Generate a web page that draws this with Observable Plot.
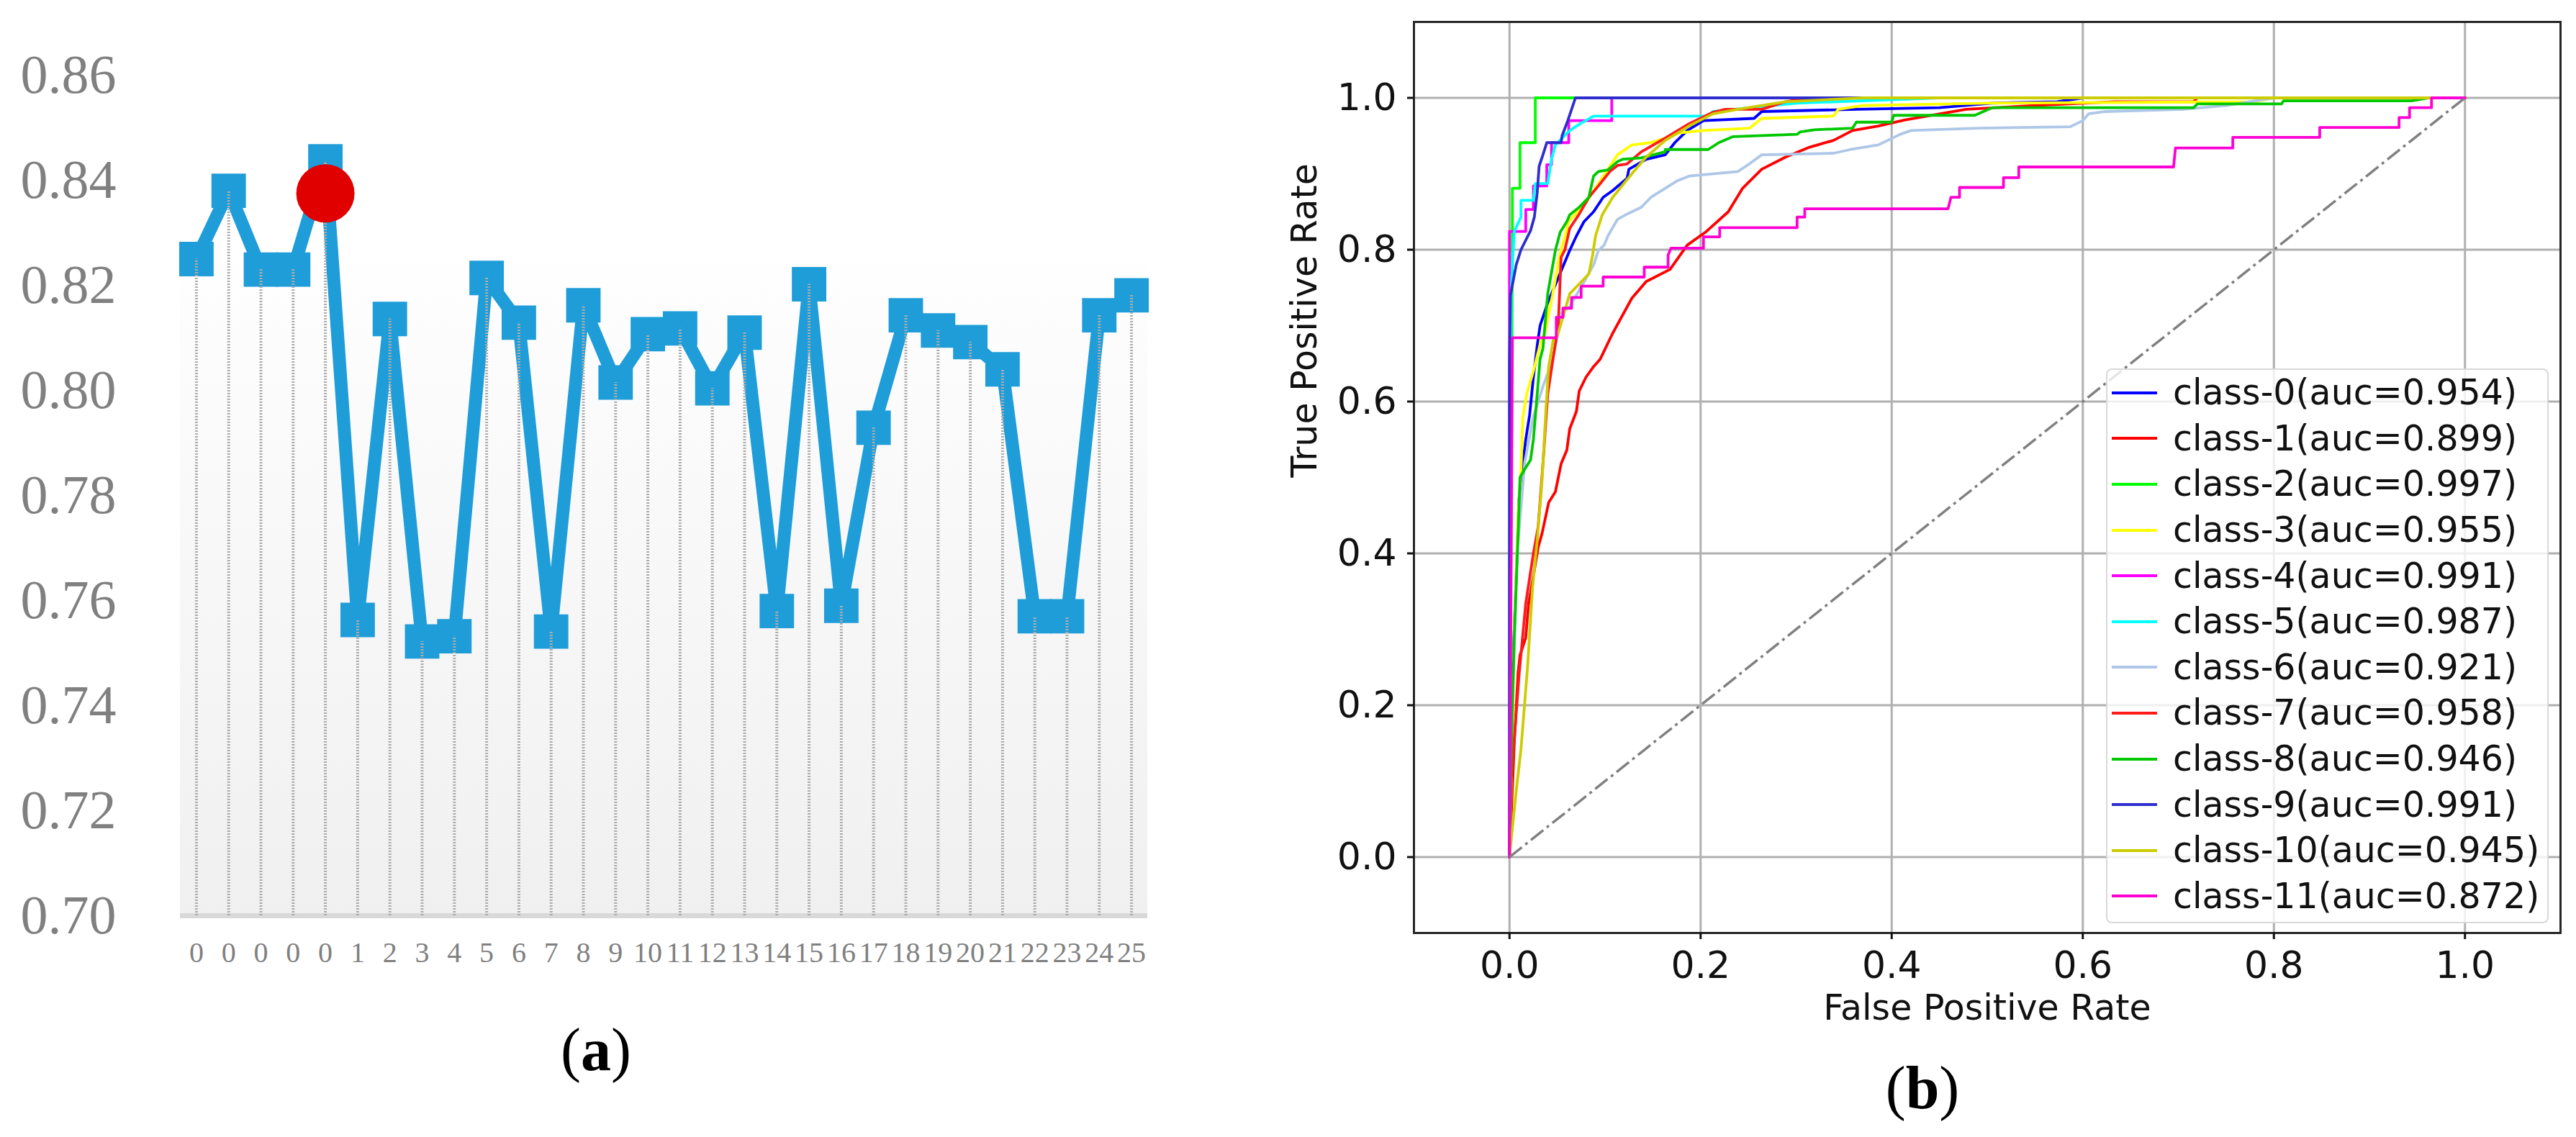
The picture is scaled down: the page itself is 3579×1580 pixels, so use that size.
<!DOCTYPE html>
<html>
<head>
<meta charset="utf-8">
<script src="https://cdn.jsdelivr.net/npm/d3@7"></script>
<script src="https://cdn.jsdelivr.net/npm/@observablehq/plot@0.6"></script>
<style>
  html, body { margin: 0; padding: 0; background: #fff; }
  #page { position: relative; width: 3579px; height: 1580px; overflow: hidden; background: #fff; }
  .panel { position: absolute; top: 0; }
  .tag { position: absolute; font-family: "Liberation Serif", "Times New Roman", serif; font-size: 84px;
         color: #000; line-height: 1; white-space: nowrap; transform: translateX(-50%); }
  #legend { position: absolute; left: 2926px; top: 512px; width: 611px; box-sizing: content-box;
            border: 2px solid #d9d9d9; border-radius: 8px; background: rgba(255,255,255,0.8);
            padding: 0 0 4px 0; font-family: "DejaVu Sans", sans-serif; font-size: 49px; color: #111; }
  #legend .row { display: flex; align-items: center; height: 63.6px; white-space: nowrap; }
  #legend .sw { display: inline-block; width: 63px; height: 4px; margin-left: 6px; margin-right: 22px; }
</style>
</head>
<body>
<div id="page">
  <div class="panel" id="panelA" style="left:0px"></div>
  <div class="panel" id="panelB" style="left:1700px"></div>
  <div class="tag" style="left:828px; top:1417px">(<b>a</b>)</div>
  <div class="tag" style="left:2671px; top:1470px">(<b>b</b>)</div>
</div>
<script>
// ---------- panel (a) data ----------
const runLabels = ["0","0","0","0","0","1","2","3","4","5","6","7","8","9","10","11","12","13","14","15","16","17","18","19","20","21","22","23","24","25"];
const runValues = [0.825,0.838,0.823,0.823,0.8436,0.7563,0.8136,0.7522,0.7532,0.8214,0.8129,0.7541,0.8162,0.8015,0.8107,0.8118,0.8004,0.8110,0.758,0.8202,0.759,0.7929,0.8143,0.8114,0.8092,0.8040,0.757,0.757,0.8143,0.8181];
const bestRun = [4];
const bestValue = [0.8375];
const yTicksA = [0.70,0.72,0.74,0.76,0.78,0.80,0.82,0.84,0.86];

// ---------- panel (b) data ----------
const rocClasses = ["class-0","class-1","class-2","class-3","class-4","class-5","class-6","class-7","class-8","class-9","class-10","class-11"];
const rocAuc = ["0.954","0.899","0.997","0.955","0.991","0.987","0.921","0.958","0.946","0.991","0.945","0.872"];
const rocColors = ["#0000ff","#ff0000","#00ff00","#ffff00","#ff00ff","#00ffff","#aec7e8","#ff1a1a","#00c800","#2e2ecf","#cccc00","#ff00d4"];
const rocTicks = [0,0.2,0.4,0.6,0.8,1.0];
const diagonal = [[0,0],[1,1]];

const roc0 = [[0,0],[0.002,0.197],[0.006,0.334],[0.01,0.472],[0.014,0.518],[0.017,0.55],[0.021,0.582],[0.025,0.632],[0.029,0.674],[0.032,0.70],[0.04,0.73],[0.05,0.76],[0.063,0.799],[0.07,0.818],[0.078,0.837],[0.088,0.85],[0.098,0.869],[0.108,0.878],[0.123,0.894],[0.125,0.906],[0.143,0.919],[0.163,0.925],[0.173,0.941],[0.186,0.957],[0.203,0.97],[0.256,0.973],[0.264,0.982],[0.364,0.985],[0.45,0.987],[0.505,0.993],[0.573,0.995],[0.6,1.0],[1,1]];
const roc1 = [[0,0],[0.005,0.15],[0.009,0.243],[0.011,0.266],[0.017,0.289],[0.02,0.334],[0.022,0.348],[0.03,0.408],[0.034,0.426],[0.041,0.467],[0.048,0.481],[0.054,0.518],[0.06,0.536],[0.063,0.564],[0.07,0.587],[0.073,0.614],[0.08,0.632],[0.088,0.646],[0.095,0.656],[0.108,0.69],[0.128,0.736],[0.143,0.758],[0.168,0.774],[0.186,0.806],[0.206,0.824],[0.229,0.85],[0.244,0.881],[0.264,0.906],[0.289,0.922],[0.314,0.935],[0.339,0.944],[0.359,0.957],[0.386,0.963],[0.414,0.971],[0.441,0.977],[0.478,0.985],[0.55,0.99],[0.633,0.995],[0.716,0.995],[0.72,1.0],[1,1]];
const roc2 = [[0,0],[0.002,0.5],[0.003,0.824],[0.003,0.881],[0.011,0.881],[0.011,0.941],[0.027,0.941],[0.027,1.0],[1,1]];
const roc3 = [[0,0],[0.002,0.1],[0.005,0.3],[0.009,0.45],[0.012,0.51],[0.014,0.58],[0.018,0.61],[0.025,0.64],[0.033,0.68],[0.037,0.69],[0.045,0.74],[0.052,0.79],[0.062,0.837],[0.08,0.862],[0.093,0.887],[0.113,0.925],[0.128,0.938],[0.148,0.941],[0.163,0.947],[0.178,0.954],[0.203,0.957],[0.251,0.96],[0.264,0.973],[0.339,0.976],[0.344,0.985],[0.37,0.99],[0.5,0.993],[0.78,0.995],[0.8,1.0],[1,1]];
const roc4 = [[0,0],[0,0.824],[0.017,0.824],[0.017,0.853],[0.025,0.853],[0.025,0.884],[0.039,0.884],[0.039,0.912],[0.044,0.912],[0.044,0.941],[0.062,0.941],[0.062,0.970],[0.107,0.970],[0.107,1.0],[1,1]];
const roc5 = [[0,0],[0,0.5],[0.002,0.755],[0.005,0.824],[0.012,0.843],[0.012,0.865],[0.025,0.865],[0.027,0.887],[0.04,0.887],[0.044,0.919],[0.048,0.938],[0.063,0.957],[0.074,0.966],[0.088,0.976],[0.208,0.976],[0.213,0.982],[0.30,0.993],[0.45,1.0],[1,1]];
const roc6 = [[0,0],[0.003,0.2],[0.008,0.4],[0.016,0.52],[0.025,0.58],[0.035,0.62],[0.045,0.654],[0.055,0.717],[0.063,0.725],[0.068,0.736],[0.075,0.751],[0.088,0.78],[0.093,0.799],[0.099,0.806],[0.103,0.818],[0.113,0.84],[0.123,0.847],[0.138,0.856],[0.148,0.869],[0.163,0.881],[0.176,0.891],[0.188,0.897],[0.239,0.903],[0.251,0.913],[0.264,0.925],[0.339,0.927],[0.357,0.932],[0.386,0.938],[0.409,0.952],[0.42,0.957],[0.49,0.96],[0.587,0.962],[0.6,0.97],[0.606,0.979],[0.624,0.982],[0.706,0.985],[0.75,0.99],[0.8,1.0],[1,1]];
const roc7 = [[0,0],[0.002,0.105],[0.01,0.24],[0.017,0.334],[0.025,0.40],[0.03,0.435],[0.035,0.518],[0.04,0.61],[0.046,0.66],[0.051,0.70],[0.054,0.79],[0.058,0.80],[0.063,0.828],[0.073,0.847],[0.083,0.869],[0.093,0.884],[0.105,0.903],[0.113,0.911],[0.123,0.913],[0.138,0.929],[0.163,0.947],[0.188,0.966],[0.213,0.981],[0.226,0.985],[0.264,0.985],[0.289,0.995],[0.314,1.0],[1,1]];
const roc8 = [[0,0],[0.002,0.15],[0.005,0.289],[0.009,0.426],[0.011,0.50],[0.015,0.509],[0.022,0.523],[0.025,0.55],[0.029,0.61],[0.032,0.656],[0.035,0.67],[0.04,0.742],[0.048,0.799],[0.053,0.823],[0.06,0.837],[0.063,0.846],[0.073,0.856],[0.083,0.869],[0.088,0.897],[0.093,0.903],[0.103,0.905],[0.113,0.916],[0.118,0.919],[0.138,0.921],[0.163,0.929],[0.163,0.932],[0.208,0.932],[0.219,0.941],[0.234,0.949],[0.301,0.952],[0.304,0.955],[0.319,0.958],[0.359,0.960],[0.363,0.968],[0.40,0.968],[0.402,0.977],[0.487,0.977],[0.505,0.987],[0.716,0.987],[0.72,0.992],[0.808,0.992],[0.81,0.996],[0.944,0.996],[0.963,1.0],[1,1]];
const roc9 = [[0,0],[0,0.65],[0.001,0.74],[0.007,0.78],[0.012,0.80],[0.022,0.825],[0.026,0.843],[0.029,0.875],[0.031,0.91],[0.035,0.925],[0.039,0.941],[0.054,0.941],[0.055,0.95],[0.061,0.97],[0.065,0.985],[0.069,1.0],[1,1]];
const roc10 = [[0,0],[0.001,0.013],[0.007,0.087],[0.012,0.142],[0.019,0.252],[0.024,0.353],[0.029,0.417],[0.034,0.495],[0.038,0.587],[0.041,0.646],[0.046,0.683],[0.05,0.686],[0.063,0.742],[0.073,0.755],[0.083,0.768],[0.087,0.793],[0.09,0.818],[0.097,0.846],[0.108,0.869],[0.128,0.90],[0.143,0.922],[0.163,0.944],[0.188,0.963],[0.213,0.979],[0.239,0.985],[0.289,0.995],[0.37,1.0],[1,1]];
const roc11 = [[0,0],[0.003,0.684],[0.049,0.684],[0.049,0.711],[0.056,0.711],[0.056,0.723],[0.065,0.723],[0.065,0.737],[0.075,0.737],[0.075,0.752],[0.098,0.752],[0.098,0.764],[0.141,0.764],[0.141,0.777],[0.166,0.777],[0.166,0.793],[0.169,0.802],[0.203,0.802],[0.203,0.817],[0.22,0.817],[0.22,0.829],[0.301,0.829],[0.301,0.843],[0.309,0.843],[0.309,0.854],[0.459,0.854],[0.462,0.869],[0.471,0.869],[0.471,0.882],[0.517,0.882],[0.517,0.895],[0.533,0.895],[0.533,0.909],[0.695,0.909],[0.697,0.934],[0.757,0.934],[0.757,0.948],[0.848,0.948],[0.848,0.961],[0.931,0.961],[0.931,0.974],[0.942,0.974],[0.942,0.987],[0.965,0.987],[0.965,1.0],[1,1]];
const rocCurves = [roc0,roc1,roc2,roc3,roc4,roc5,roc6,roc7,roc8,roc9,roc10,roc11];

// ---------- panel (a) ----------
const ptsA = runValues.map((v, i) => ({i, v}));
const bestPts = bestRun.map((i, k) => ({i, v: bestValue[k]}));
const blue = "#1e9dd9";
const chartA = Plot.plot({
  width: 1700, height: 1400,
  marginLeft: 250, marginRight: 106, marginTop: 104, marginBottom: 128,
  x: {domain: [-0.5, 29.5], axis: null},
  y: {domain: [0.70, 0.86], axis: null},
  style: {fontFamily: "'Liberation Serif', 'Times New Roman', serif", color: "#808080", background: "transparent", overflow: "visible"},
  marks: [
    Plot.rect([0], {x1: -0.5, x2: 29.5, y1: 0.70, y2: 0.824, fill: "url(#gradA)"}),
    Plot.ruleY([0.70], {stroke: "#d9d9d9", strokeWidth: 7}),
    Plot.line(ptsA, {x: "i", y: "v", stroke: blue, strokeWidth: 18}),
    Plot.dot(ptsA, {x: "i", y: "v", symbol: "square", r: 27, fill: blue}),
    Plot.ruleX(ptsA, {x: "i", y1: 0.70, y2: "v", stroke: "#acacac", strokeWidth: 4, strokeDasharray: "2,2"}),
    Plot.dot(bestPts, {x: "i", y: "v", r: 40.5, fill: "#e00000"}),
    Plot.axisY(yTicksA, {tickSize: 0, tickPadding: 89, tickFormat: d => d.toFixed(2), fontSize: 76, label: null}),
    Plot.axisX(d3.range(runLabels.length), {tickSize: 0, tickPadding: 36, tickFormat: i => runLabels[i], fontSize: 40, label: null})
  ]
});
{
  const defs = d3.select(chartA).insert("defs", ":first-child");
  const g = defs.append("linearGradient").attr("id", "gradA").attr("x1", 0).attr("y1", 0).attr("x2", 0).attr("y2", 1);
  g.append("stop").attr("offset", "0%").attr("stop-color", "#fefefe");
  g.append("stop").attr("offset", "100%").attr("stop-color", "#f0f0f0");
}
document.getElementById("panelA").appendChild(chartA);

// ---------- panel (b) ----------
const rocData = rocCurves.flatMap((pts, k) => pts.map(([fpr, tpr]) => ({cls: rocClasses[k], fpr, tpr})));
const chartB = Plot.plot({
  width: 1879, height: 1440,
  marginLeft: 264, marginRight: 22, marginTop: 30, marginBottom: 144,
  x: {domain: [-0.1, 1.1], axis: null},
  y: {domain: [-0.1, 1.1], axis: null},
  color: {domain: rocClasses, range: rocColors},
  style: {fontFamily: "'DejaVu Sans', sans-serif", color: "#111", background: "transparent", overflow: "visible"},
  marks: [
    Plot.gridX(rocTicks, {stroke: "#b0b0b0", strokeOpacity: 1, strokeWidth: 3}),
    Plot.gridY(rocTicks, {stroke: "#b0b0b0", strokeOpacity: 1, strokeWidth: 3}),
    Plot.line(rocData, {x: "fpr", y: "tpr", z: "cls", stroke: "cls", strokeWidth: 3.8}),
    Plot.line(diagonal, {x: d => d[0], y: d => d[1], stroke: "#808080", strokeWidth: 3.5, strokeDasharray: "22,6,4,6", strokeLinecap: "butt"}),
    Plot.frame({stroke: "#262626", strokeWidth: 3}),
    Plot.axisX(rocTicks, {tickSize: 9, tickPadding: 17, strokeWidth: 3, tickFormat: d => d.toFixed(1), fontSize: 52, label: null}),
    Plot.axisY(rocTicks, {tickSize: 9, tickPadding: 15, strokeWidth: 3, tickFormat: d => d.toFixed(1), fontSize: 52, label: null}),
    Plot.text(["False Positive Rate"], {frameAnchor: "bottom", dy: 120, fontSize: 49}),
    Plot.text(["True Positive Rate"], {frameAnchor: "left", rotate: -90, dx: -151, fontSize: 49})
  ]
});
document.getElementById("panelB").appendChild(chartB);

// legend (HTML overlay built from the class arrays)
const legend = d3.select("#page").append("div").attr("id", "legend");
rocClasses.forEach((c, k) => {
  const row = legend.append("div").attr("class", "row");
  row.append("span").attr("class", "sw").style("background", rocColors[k]);
  row.append("span").text(`${c}(auc=${rocAuc[k]})`);
});
</script>
</body>
</html>
